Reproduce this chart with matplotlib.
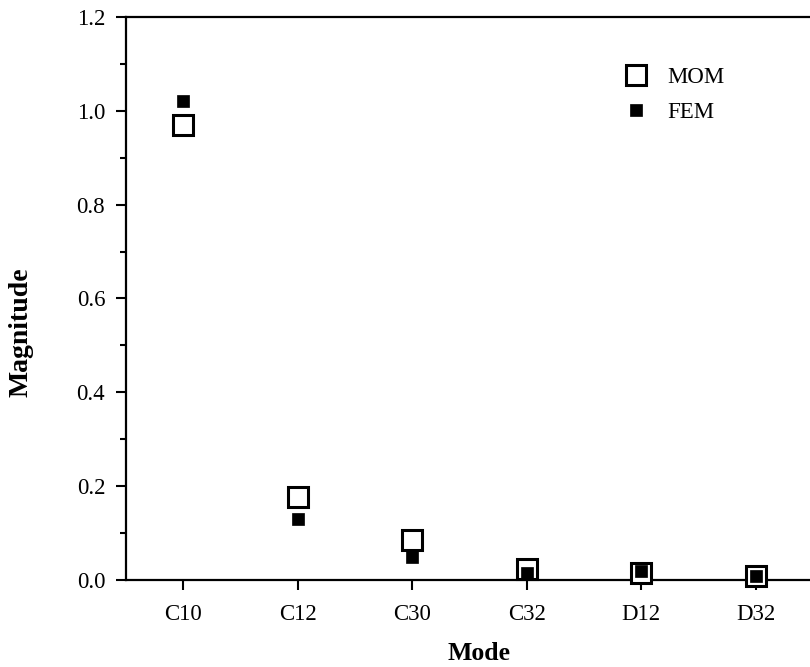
import matplotlib.pyplot as plt
from matplotlib.ticker import MultipleLocator

# Data
modes = ['C10', 'C12', 'C30', 'C32', 'D12', 'D32']
mom_values = [0.970, 0.176, 0.085, 0.024, 0.014, 0.008]
fem_values = [1.021, 0.130, 0.050, 0.014, 0.020, 0.008]

plt.rcParams['font.family'] = ['Liberation Serif', 'DejaVu Serif']

fig = plt.figure(figsize=(8.1, 6.67), dpi=100)
ax = fig.add_axes([126 / 810, 87 / 667, 687 / 810, 563 / 667])

x = list(range(len(modes)))
ax.plot(x, mom_values, linestyle='none', marker='s', markersize=14,
        markerfacecolor='white', markeredgecolor='black', markeredgewidth=2.2,
        label='MOM', clip_on=False, zorder=3)
ax.plot(x, fem_values, linestyle='none', marker='s', markersize=8.5,
        markerfacecolor='black', markeredgecolor='black', markeredgewidth=0.5,
        label='FEM', clip_on=False, zorder=4)

ax.set_xlim(-0.5, 5.5)
ax.set_ylim(0, 1.2)
ax.set_xticks(x)
ax.set_xticklabels(modes)
ax.yaxis.set_major_locator(MultipleLocator(0.2))
ax.yaxis.set_minor_locator(MultipleLocator(0.1))
ax.yaxis.set_major_formatter(plt.FormatStrFormatter('%.1f'))

for side in ['left', 'bottom', 'top']:
    ax.spines[side].set_linewidth(1.6)
ax.spines['right'].set_visible(False)

ax.tick_params(axis='x', which='major', direction='out', length=7, width=1.5,
               labelsize=16.5, pad=10)
ax.tick_params(axis='y', which='major', direction='out', length=7, width=1.5,
               labelsize=16.5, pad=8)
ax.tick_params(axis='y', which='minor', direction='out', length=4.5, width=1.5)

ax.set_xlabel('Mode', fontsize=18.5, fontweight='bold')
ax.set_ylabel('Magnitude', fontsize=20, fontweight='bold')
ax.xaxis.set_label_coords(0.514, -0.11)
ax.yaxis.set_label_coords(-0.135, 0.44)

ax.legend(loc='center left', bbox_to_anchor=(0.6925, 0.862), frameon=False,
          fontsize=16.5, handletextpad=0.35, labelspacing=0.6, borderpad=0,
          numpoints=1)

fig.savefig('out.png', dpi=100)
